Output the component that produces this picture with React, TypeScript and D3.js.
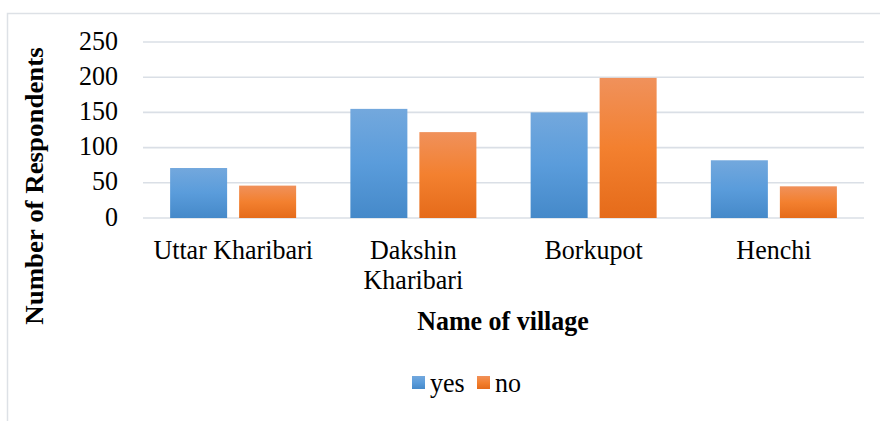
import React from "react";
import * as d3 from "d3";

const categories = ["Uttar Kharibari", "Dakshin Kharibari", "Borkupot", "Henchi"];
const seriesNames = ["yes", "no"];
const yesValues = [71, 155, 150, 82];
const noValues = [46, 122, 199, 45];
const yTicks = [0, 50, 100, 150, 200, 250];

const W = 880;
const H = 421;
const FONT = "'Liberation Serif', 'Times New Roman', serif";
const FS = 26;
const SY = 1.07;

function measure(text: string, bold = false): number {
  const c = document.createElement("canvas").getContext("2d");
  if (!c) return text.length * FS * 0.45;
  c.font = `${bold ? "bold " : ""}${FS}px ${FONT}`;
  return c.measureText(text).width;
}

function wrap(text: string, maxW: number): string[] {
  const words = text.split(" ");
  const lines: string[] = [];
  let cur = "";
  for (const w of words) {
    const t = cur ? cur + " " + w : w;
    if (cur && measure(t) > maxW) {
      lines.push(cur);
      cur = w;
    } else cur = t;
  }
  if (cur) lines.push(cur);
  return lines;
}

function T(props: { x: number; y: number; anchor?: string; bold?: boolean; rotate?: boolean; children: React.ReactNode }) {
  const { x, y, anchor = "start", bold = false, rotate = false, children } = props;
  const tf = rotate
    ? `translate(${x},${y}) scale(1,1.035) rotate(-90)`
    : `translate(${x},${y}) scale(1,${SY})`;
  return (
    <text transform={tf} textAnchor={anchor} fontSize={FS} fontWeight={bold ? "bold" : "normal"} fill="#000">
      {children}
    </text>
  );
}

export default function App() {
  const x0 = d3.scaleBand<string>().domain(categories).range([143, 864]).padding(0);
  const x1 = d3
    .scaleBand<string>()
    .domain(seriesNames)
    .range([0, x0.bandwidth()])
    .paddingInner(0.174)
    .paddingOuter(0.393);
  const y = d3.scaleLinear().domain([0, 250]).range([218, 42]);
  const values: Record<string, number[]> = { yes: yesValues, no: noValues };
  const fills: Record<string, string> = { yes: "url(#gBlue)", no: "url(#gOrange)" };

  return (
    <svg
      width={W}
      height={H}
      style={{ position: "absolute", left: 0, top: 0, background: "#fff" }}
      fontFamily={FONT}
    >
      <defs>
        <linearGradient id="gBlue" x1="0" y1="0" x2="0" y2="1">
          <stop offset="0%" stopColor="#73a8dd" />
          <stop offset="50%" stopColor="#5a9cdb" />
          <stop offset="100%" stopColor="#4589c9" />
        </linearGradient>
        <linearGradient id="gOrange" x1="0" y1="0" x2="0" y2="1">
          <stop offset="0%" stopColor="#f0915b" />
          <stop offset="50%" stopColor="#f3802f" />
          <stop offset="100%" stopColor="#e56b1a" />
        </linearGradient>
      </defs>
      <rect x={7.5} y={13.5} width={W} height={H} fill="#fff" stroke="#dde1e6" strokeWidth={1.5} />
      {yTicks.map((t) => (
        <g key={t}>
          <line x1={143} x2={864} y1={y(t)} y2={y(t)} stroke="#dadfe6" strokeWidth={1.6} />
          <T x={118} y={y(t) + 7.5} anchor="end">
            {t}
          </T>
        </g>
      ))}
      {categories.map((c, i) => (
        <g key={c}>
          {seriesNames.map((s) => (
            <rect
              key={s}
              x={(x0(c) ?? 0) + (x1(s) ?? 0)}
              width={x1.bandwidth()}
              y={y(values[s][i])}
              height={y(0) - y(values[s][i])}
              fill={fills[s]}
            />
          ))}
          {wrap(c, x0.bandwidth()).map((ln, k) => (
            <T key={k} x={(x0(c) ?? 0) + x0.bandwidth() / 2} y={259 + k * 30} anchor="middle">
              {ln}
            </T>
          ))}
        </g>
      ))}
      <T x={503} y={330} anchor="middle" bold>
        Name of village
      </T>
      <T x={43} y={186} anchor="middle" bold rotate>
        Number of Respondents
      </T>
      <g>
        <rect x={412} y={376} width={13} height={13} fill="url(#gBlue)" />
        <T x={430} y={392}>yes</T>
        <rect x={477} y={376} width={13} height={13} fill="url(#gOrange)" />
        <T x={495} y={392}>no</T>
      </g>
    </svg>
  );
}
